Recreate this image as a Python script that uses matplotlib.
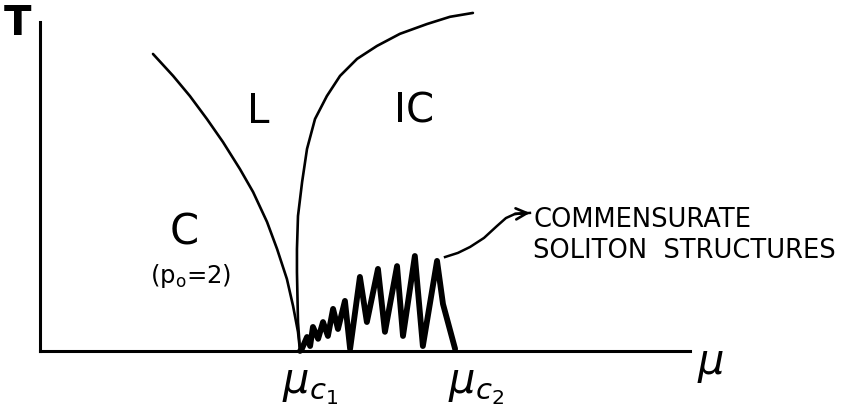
import matplotlib
matplotlib.use("Agg")
import matplotlib.pyplot as plt

plt.rcParams['font.family'] = ['DejaVu Sans']
plt.rcParams['mathtext.fontset'] = 'dejavusans'

# Phase boundary C | L  (mu, T)
left_mu = [0.438, 0.516, 0.581, 0.647, 0.709, 0.775, 0.826, 0.880, 0.919, 0.957, 0.981, 1.000, 1.008]
left_T  = [1.151, 1.066, 0.988, 0.899, 0.810, 0.705, 0.616, 0.500, 0.395, 0.279, 0.174, 0.074, 0.000]

# Phase boundary L | IC
right_mu = [1.008, 1.000, 0.996, 0.996, 1.000, 1.016, 1.035, 1.066, 1.112, 1.163, 1.229, 1.306,
            1.395, 1.500, 1.589, 1.678]
right_T  = [0.000, 0.112, 0.306, 0.395, 0.523, 0.655, 0.783, 0.899, 0.988, 1.066, 1.132, 1.182,
            1.229, 1.267, 1.295, 1.310]

# Commensurate soliton structures (spikes)
sol_mu = [1.008, 1.015, 1.035, 1.047, 1.058, 1.078, 1.097, 1.116, 1.136, 1.155, 1.182, 1.202,
          1.240, 1.267, 1.310, 1.337, 1.384, 1.407, 1.453, 1.484, 1.539, 1.562, 1.609]
sol_T  = [0.000, 0.008, 0.054, 0.019, 0.093, 0.047, 0.112, 0.058, 0.163, 0.085, 0.194, 0.008,
          0.287, 0.112, 0.318, 0.074, 0.329, 0.058, 0.368, 0.019, 0.349, 0.182, 0.008]

# Annotation arrow path
arrow_mu = [1.570, 1.620, 1.667, 1.721, 1.771, 1.806, 1.841, 1.899]
arrow_T  = [0.364, 0.380, 0.403, 0.438, 0.484, 0.515, 0.531, 0.535]

T_max, mu_max = 1.275, 2.52

fig = plt.figure(figsize=(8.55, 4.10), dpi=100)
ax = fig.add_axes([0, 0, 1, 1])
ax.set_xlim(-0.155, 3.159)
ax.set_ylim(-0.225, 1.364)

for s in ['top', 'right']:
    ax.spines[s].set_visible(False)
ax.spines['left'].set_position(('data', 0))
ax.spines['bottom'].set_position(('data', 0))
ax.spines['left'].set_bounds(0, T_max)
ax.spines['bottom'].set_bounds(0, mu_max)
ax.spines['left'].set_linewidth(2.2)
ax.spines['bottom'].set_linewidth(2.2)
ax.set_xticks([])
ax.set_yticks([])

ax.plot(left_mu, left_T, color='black', lw=1.9, solid_capstyle='round', solid_joinstyle='round')
ax.plot(right_mu, right_T, color='black', lw=1.9, solid_capstyle='round', solid_joinstyle='round')
ax.plot(sol_mu, sol_T, color='black', lw=4.2, solid_joinstyle='round', solid_capstyle='round')

ax.plot(arrow_mu, arrow_T, color='black', lw=1.8, solid_joinstyle='round')
ax.annotate('', xy=(arrow_mu[-1], arrow_T[-1]), xytext=(arrow_mu[-2], arrow_T[-2]),
            arrowprops=dict(arrowstyle='->', color='black', lw=1.9, mutation_scale=20,
                            shrinkA=0, shrinkB=0))

ax.text(-0.089, 1.229, 'T', fontsize=29, ha='center', va='baseline', fontweight='bold')
ax.text(0.845, 0.888, 'L', fontsize=29, ha='center', va='baseline')
ax.text(1.450, 0.888, 'IC', fontsize=29, ha='center', va='baseline')
ax.text(0.558, 0.415, 'C', fontsize=30, ha='center', va='baseline')
ax.text(0.426, 0.267, r'(p$_{\mathrm{o}}$=2)', fontsize=17.5, ha='left', va='baseline')

ax.text(0.938, -0.159, r'$\mu_{c_1}$', fontsize=30, ha='left', va='baseline')
ax.text(1.581, -0.159, r'$\mu_{c_2}$', fontsize=30, ha='left', va='baseline')
ax.text(2.547, -0.085, r'$\mu$', fontsize=30, ha='left', va='baseline')

ax.text(1.911, 0.484, 'COMMENSURATE', fontsize=18.5, ha='left', va='baseline')
ax.text(1.911, 0.364, 'SOLITON  STRUCTURES', fontsize=18.5, ha='left', va='baseline')

fig.savefig('out.png', dpi=100)
